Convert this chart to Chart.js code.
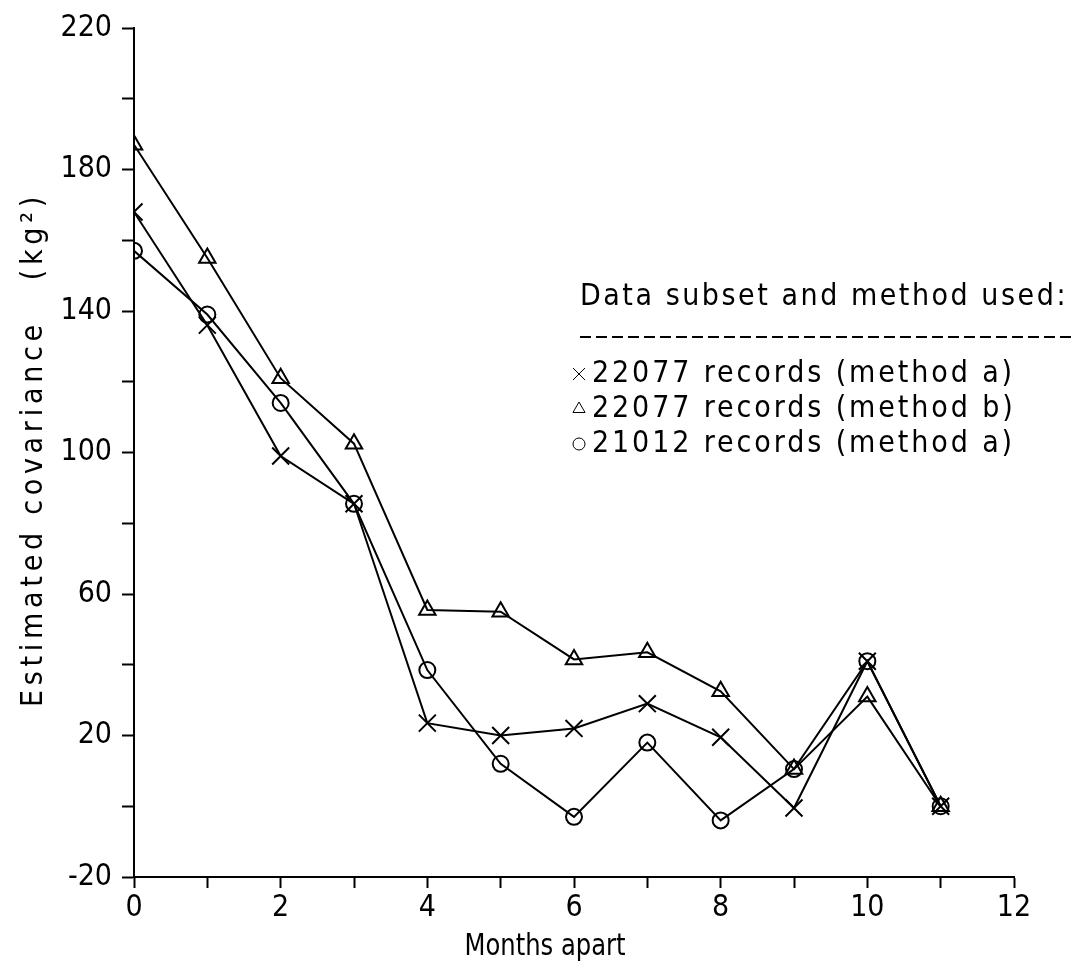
<!DOCTYPE html>
<html><head><meta charset="utf-8">
<script src="https://cdn.jsdelivr.net/npm/chart.js@4/dist/chart.umd.min.js"></script>
<style>html,body{margin:0;padding:0;background:#fff}</style>
</head><body>
<canvas id="c" width="1072" height="965" style="display:block;width:1072px;height:965px"></canvas>
<script>
const monthsApart = [0, 1, 2, 3, 4, 5, 6, 7, 8, 9, 10, 11];
const cov22077a = [168, 136, 99, 85.5, 23.5, 20, 22, 29, 19.5, -0.5, 41, 0];
const cov22077b = [187, 155, 121, 102.5, 55.5, 55, 41.5, 43.5, 32.5, 10.5, 31, 0];
const cov21012a = [157, 139, 114, 85.5, 38.5, 12, -3, 18, -4, 10.5, 41, 0];
const seriesLabels = ['22077 records (method a)', '22077 records (method b)', '21012 records (method a)'];
const legendTitle = 'Data subset and method used:';
const xTitle = 'Months apart';
const yTitle = 'Estimated covariance   (kg\u00B2)';
const xTickLabels = ['0', '2', '4', '6', '8', '10', '12'];
const yTickLabels = ['-20', '20', '60', '100', '140', '180', '220'];

const FONT = "'DejaVu Sans Condensed', 'DejaVu Sans', sans-serif";

function toPoints(vals) { return monthsApart.map((m, i) => ({ x: m, y: vals[i] })); }

// draw text fitted to a given width: extra width -> letter spacing, less -> horizontal squeeze
function fitText(ctx, text, x, y, width, size, align, rot, spacingOverride) {
  ctx.save();
  ctx.font = size + "px " + FONT;
  ctx.letterSpacing = '0px';
  const n = Array.from(text).length;
  const w0 = ctx.measureText(text).width;
  let sp = spacingOverride;
  if (sp === undefined) sp = w0 < width ? (width - w0) / n : 0;
  ctx.letterSpacing = sp + 'px';
  const w1 = ctx.measureText(text).width;
  ctx.translate(x, y);
  if (rot) ctx.rotate(rot);
  const sx = (sp === 0 && w1 > width) ? width / w1 : 1;
  ctx.scale(sx, 1);
  ctx.textAlign = 'left';
  ctx.textBaseline = 'alphabetic';
  ctx.fillStyle = '#000';
  const ww = w1 * sx;
  const off = align === 'center' ? -ww / 2 / sx : 0;
  ctx.fillText(text, off, 0);
  ctx.restore();
  return sp;
}

const textPlugin = {
  id: 'textPlugin',
  afterDraw(chart) {
    const ctx = chart.ctx;
    const ca = chart.chartArea;
    // axis titles
    fitText(ctx, yTitle, 42, (ca.top + ca.bottom) / 2 - 3, 515, 30, 'center', -Math.PI / 2);
    fitText(ctx, xTitle, 545, 955, 161, 30, 'center', 0);
    // legend
    fitText(ctx, legendTitle, 580, 305, 488, 30, 'left', 0);
    ctx.save();
    ctx.strokeStyle = '#000';
    ctx.lineWidth = 2;
    ctx.setLineDash([11, 5]);
    ctx.beginPath();
    ctx.moveTo(580, 337);
    ctx.lineTo(1072, 337);
    ctx.stroke();
    ctx.restore();
    let sp;
    chart.data.datasets.forEach((ds, i) => {
      const base = 382 + i * 35;
      if (i === 0) sp = fitText(ctx, ds.label, 592, base, 423, 30, 'left', 0);
      else fitText(ctx, ds.label, 592, base, 423, 30, 'left', 0, sp);
      ctx.save();
      ctx.strokeStyle = '#000';
      ctx.fillStyle = 'rgba(0,0,0,0)';
      Chart.helpers.drawPoint(ctx, {
        pointStyle: ds.pointStyle,
        radius: ds.pointStyle === 'crossRot' ? 8.5 : (ds.pointStyle === 'triangle' ? 7 : 6),
        rotation: 0,
        borderWidth: 2
      }, 579, base - 8);
      ctx.restore();
    });
  }
};

const common = {
  borderColor: '#000',
  borderWidth: 2,
  pointBorderColor: '#000',
  pointBackgroundColor: 'rgba(0,0,0,0)',
  pointBorderWidth: 2,
  tension: 0,
  fill: false
};

new Chart(document.getElementById('c'), {
  type: 'line',
  data: {
    datasets: [
      Object.assign({ label: seriesLabels[0], data: toPoints(cov22077a), pointStyle: 'crossRot', pointRadius: 12 }, common),
      Object.assign({ label: seriesLabels[1], data: toPoints(cov22077b), pointStyle: 'triangle', pointRadius: 9.5 }, common),
      Object.assign({ label: seriesLabels[2], data: toPoints(cov21012a), pointStyle: 'circle', pointRadius: 8 }, common)
    ]
  },
  options: {
    responsive: false,
    animation: false,
    devicePixelRatio: 1,
    layout: { padding: { left: 0, right: 58, top: 22, bottom: 0 } },
    plugins: { legend: { display: false }, tooltip: { enabled: false }, title: { display: false } },
    scales: {
      x: {
        type: 'linear',
        min: 0, max: 12,
        border: { display: true, color: '#000', width: 2 },
        grid: { display: true, drawOnChartArea: false, drawTicks: true, tickLength: 11, tickColor: '#000', tickWidth: 2, color: '#000' },
        ticks: {
          stepSize: 1, autoSkip: false, maxRotation: 0, color: '#000', padding: 2,
          font: { family: FONT, size: 30 },
          callback: v => xTickLabels.includes(String(v)) ? String(v) : ''
        },
        afterFit: s => { s.height = 88; }
      },
      y: {
        type: 'linear',
        min: -20, max: 220,
        border: { display: true, color: '#000', width: 2 },
        grid: { display: true, drawOnChartArea: false, drawTicks: true, tickLength: 12, tickColor: '#000', tickWidth: 2, color: '#000' },
        ticks: {
          stepSize: 20, autoSkip: false, color: '#000', padding: 10,
          font: { family: FONT, size: 30 },
          callback: v => yTickLabels.includes(String(v)) ? String(v) : ''
        },
        afterFit: s => { s.width = 134; }
      }
    }
  },
  plugins: [textPlugin]
});
</script>
</body></html>
